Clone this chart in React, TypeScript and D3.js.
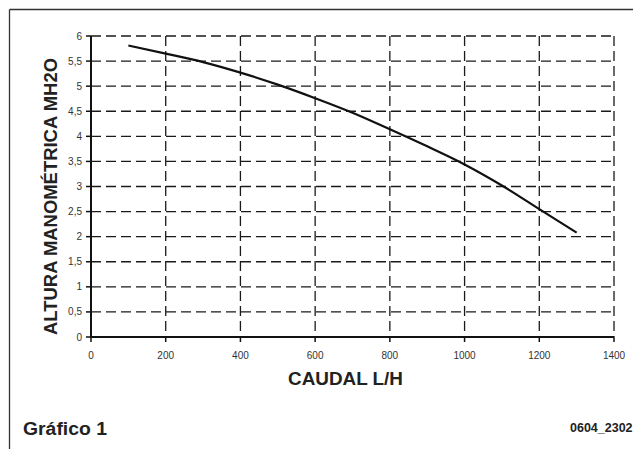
import React from "react";
import * as d3 from "d3";

const flowValues = [100, 200, 300, 400, 500, 600, 700, 800, 900, 1000, 1100, 1200, 1300];
const headValues = [5.81, 5.65, 5.48, 5.27, 5.03, 4.76, 4.47, 4.14, 3.8, 3.44, 3.02, 2.55, 2.08];
const xTicks = [0, 200, 400, 600, 800, 1000, 1200, 1400];
const yTicks = [0, 0.5, 1, 1.5, 2, 2.5, 3, 3.5, 4, 4.5, 5, 5.5, 6];

const fmtY = (v: number) => String(v).replace(".", ",");

export default function App() {
  const W = 633, H = 449;
  const left = 91, right = 614, top = 36, bottom = 337;
  const x = d3.scaleLinear().domain([0, 1400]).range([left, right]);
  const y = d3.scaleLinear().domain([0, 6]).range([bottom, top]);
  const pts = flowValues.map((f, i) => [f, headValues[i]] as [number, number]);
  const line = d3
    .line<[number, number]>()
    .x((d) => x(d[0]))
    .y((d) => y(d[1]))
    .curve(d3.curveMonotoneX);
  const font = "Liberation Sans, Arial, Helvetica, sans-serif";
  const grid = "#1a1a1a";
  return (
    <svg
      width={W}
      height={H}
      style={{ position: "absolute", left: 0, top: 0, background: "#fff" }}
      fontFamily={font}
    >
      <rect x={0} y={0} width={W} height={H} fill="#fff" />
      {/* frame */}
      <line x1={9.5} y1={9.5} x2={W} y2={9.5} stroke="#333" strokeWidth={1.3} />
      <line x1={9.5} y1={9.5} x2={9.5} y2={H} stroke="#333" strokeWidth={1.3} />
      {/* horizontal grid */}
      {yTicks.filter((t) => t > 0).map((t) => (
        <line
          key={"h" + t}
          x1={left}
          x2={right}
          y1={y(t)}
          y2={y(t)}
          stroke={grid}
          strokeWidth={1.3}
          strokeDasharray="10,5"
        />
      ))}
      {/* vertical grid */}
      {xTicks.filter((t) => t > 0).map((t) => (
        <line
          key={"v" + t}
          x1={x(t)}
          x2={x(t)}
          y1={top}
          y2={bottom}
          stroke={grid}
          strokeWidth={1.3}
          strokeDasharray="10,5"
        />
      ))}
      {/* axes */}
      <line x1={left} x2={left} y1={top} y2={bottom + 1} stroke="#111" strokeWidth={2} />
      <line x1={left - 1} x2={right} y1={bottom} y2={bottom} stroke="#111" strokeWidth={2} />
      {yTicks.map((t) => (
        <g key={"yt" + t}>
          <line x1={left - 5} x2={left} y1={y(t)} y2={y(t)} stroke="#111" strokeWidth={1.5} />
          <text x={left - 9} y={y(t)} dy="0.35em" textAnchor="end" fontSize={10} fill="#333">
            {fmtY(t)}
          </text>
        </g>
      ))}
      {xTicks.map((t) => (
        <g key={"xt" + t}>
          <line x1={x(t)} x2={x(t)} y1={bottom} y2={bottom + 5} stroke="#111" strokeWidth={1.5} />
          <text x={x(t)} y={bottom + 22} textAnchor="middle" fontSize={10} fill="#333">
            {t}
          </text>
        </g>
      ))}
      {/* curve */}
      <path d={line(pts) || ""} fill="none" stroke="#111" strokeWidth={2.2} />
      {/* titles */}
      <text
        transform={`translate(57,335) rotate(-90)`}
        fontSize={18.5}
        fontWeight="bold"
        fill="#222"
        textLength={277}
        lengthAdjust="spacingAndGlyphs"
      >
        ALTURA MANOMÉTRICA MH2O
      </text>
      <text
        x={288}
        y={385}
        fontSize={18.5}
        fontWeight="bold"
        fill="#222"
        textLength={115}
        lengthAdjust="spacingAndGlyphs"
      >
        CAUDAL L/H
      </text>
      <text
        x={23}
        y={435}
        fontSize={18}
        fontWeight="bold"
        fill="#222"
        textLength={84}
        lengthAdjust="spacingAndGlyphs"
      >
        Gráfico 1
      </text>
      <text x={570} y={432} fontSize={12.5} fontWeight="bold" fill="#222">
        0604_2302
      </text>
    </svg>
  );
}
